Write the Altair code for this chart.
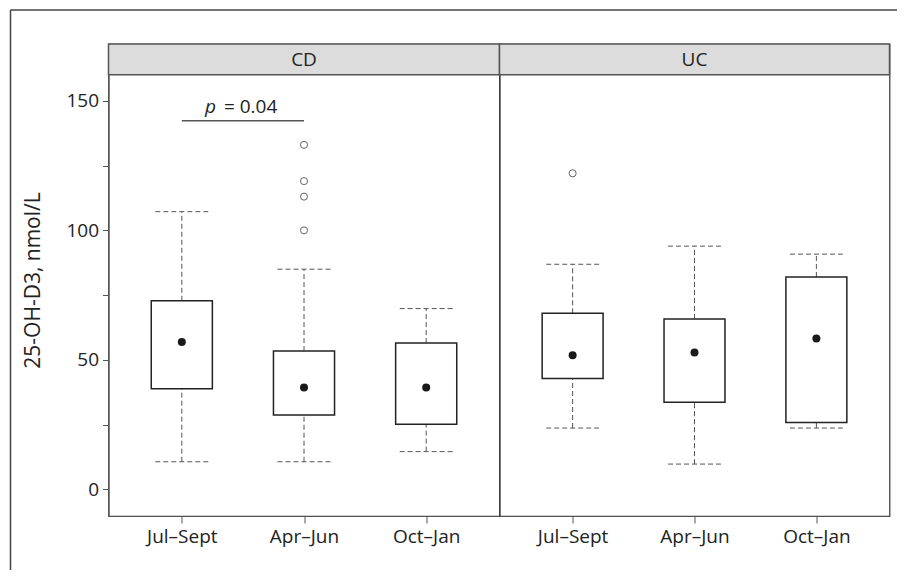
import json
import altair as alt
import pandas as pd

# ---------------- data ----------------
seasons = ["Jul–Sept", "Apr–Jun", "Oct–Jan"]
panels = ["CD", "UC"]

cd_low = [10.7, 10.7, 14.6]
cd_q1 = [38.9, 28.7, 25.2]
cd_median = [56.9, 39.3, 39.3]
cd_q3 = [72.8, 53.4, 56.5]
cd_high = [107.2, 85.0, 69.8]
cd_outlier_season = ["Apr–Jun", "Apr–Jun", "Apr–Jun", "Apr–Jun"]
cd_outlier_value = [133.0, 119.0, 113.0, 100.0]

uc_low = [23.7, 9.8, 23.7]
uc_q1 = [42.8, 33.7, 25.8]
uc_median = [51.8, 52.9, 58.3]
uc_q3 = [68.0, 65.8, 82.0]
uc_high = [86.9, 93.9, 90.8]
uc_outlier_season = ["Jul–Sept"]
uc_outlier_value = [122.0]

p_pair = ["Jul–Sept", "Apr–Jun"]
p_level = 142.3
p_text = "= 0.04"

y_ticks = [0, 25, 50, 75, 100, 125, 150]
y_title = "25-OH-D3, nmol/L"

# ---------------- styling ----------------
FONT = "Open Sans"
FS = 19
FS_TITLE = 21
TXT = "#222222"
GREY = "#555555"
Y_DOMAIN = [-10.24, 171.9]
X_DOMAIN = [-0.6, 2.6]
H = 472
STRIP_H = 30.7
BOX_HALF = 0.25
CAP_HALF = 0.217
DASH = [5, 3]


def stats_frame(low, q1, med, q3, high):
    return pd.DataFrame({
        "season": seasons,
        "idx": list(range(len(seasons))),
        "low": low, "q1": q1, "median": med, "q3": q3, "high": high,
    })


def outlier_frame(s, v):
    return pd.DataFrame({"idx": [seasons.index(x) for x in s], "value": v})


label_expr = json.dumps(seasons, ensure_ascii=False) + "[datum.value]"
x_scale = alt.Scale(domain=X_DOMAIN, nice=False, zero=False)
x_axis = alt.Axis(values=[0, 1, 2], labelExpr=label_expr, title=None, grid=False,
                  tickSize=7, labelPadding=4, domainColor=GREY, tickColor=GREY,
                  labelColor=TXT, labelFont=FONT, labelFontSize=FS)
y_scale = alt.Scale(domain=Y_DOMAIN, nice=False, zero=False)


def y_axis(show):
    if not show:
        return None
    return alt.Axis(values=y_ticks,
                    labelExpr="datum.value % 50 == 0 ? datum.label : ''",
                    title=y_title, titleFont=FONT, titleFontSize=FS_TITLE,
                    titleFontWeight="normal", titleColor=TXT, titlePadding=22,
                    grid=False, tickSize=6, labelPadding=4,
                    domainColor=GREY, tickColor=GREY, labelColor=TXT,
                    labelFont=FONT, labelFontSize=FS)


def X(field):
    return alt.X(field, type="quantitative", scale=x_scale, axis=x_axis)


def Y(field, show):
    return alt.Y(field, type="quantitative", scale=y_scale, axis=y_axis(show))


def panel(name, df, out, width, left):
    one = alt.Chart(pd.DataFrame({"k": [0]}))
    base = alt.Chart(df)
    strip = one.mark_rect(fill="#dcdcdc", stroke=GREY, strokeWidth=1.5).encode(
        x=alt.value(0), x2=alt.value(width), y=alt.value(0), y2=alt.value(STRIP_H))
    strip_txt = one.mark_text(text=name, font=FONT, fontSize=FS, color=TXT,
                              baseline="middle", align="center").encode(
        x=alt.value(width / 2), y=alt.value(STRIP_H / 2 + 0.5))
    wh_up = base.mark_rule(color=GREY, strokeWidth=1, strokeDash=DASH).encode(
        x=X("idx"), y=Y("q3", left), y2="high")
    wh_lo = base.mark_rule(color=GREY, strokeWidth=1, strokeDash=DASH).encode(
        x=X("idx"), y=Y("low", left), y2="q1")
    capped = base.transform_calculate(cl=f"datum.idx - {CAP_HALF}",
                                      cr=f"datum.idx + {CAP_HALF}")
    cap_up = capped.mark_rule(color=GREY, strokeWidth=1, strokeDash=DASH).encode(
        x=X("cl"), x2="cr", y=Y("high", left))
    cap_lo = capped.mark_rule(color=GREY, strokeWidth=1, strokeDash=DASH).encode(
        x=X("cl"), x2="cr", y=Y("low", left))
    box = base.transform_calculate(bl=f"datum.idx - {BOX_HALF}",
                                   br=f"datum.idx + {BOX_HALF}").mark_rect(
        fill="white", stroke="#222222", strokeWidth=1.5).encode(
        x=X("bl"), x2="br", y=Y("q1", left), y2="q3")
    med = base.mark_circle(size=64, color="#1a1a1a", opacity=1).encode(
        x=X("idx"), y=Y("median", left))
    outl = alt.Chart(out).mark_point(shape="circle", filled=False, size=50,
                                     stroke="#222222", strokeWidth=1).encode(
        x=X("idx"), y=Y("value", left))
    layers = [strip, strip_txt, wh_up, wh_lo, cap_up, cap_lo, box, med, outl]
    if left:
        pdf = pd.DataFrame({"a": [seasons.index(p_pair[0])],
                            "b": [seasons.index(p_pair[1])],
                            "y": [p_level]})
        pdf["m"] = (pdf["a"] + pdf["b"]) / 2
        pc = alt.Chart(pdf)
        p_rule = pc.mark_rule(color=GREY, strokeWidth=1.5).encode(
            x=X("a"), x2="b", y=Y("y", left))
        p_it = pc.mark_text(text="p", font=FONT, fontSize=FS, fontStyle="italic",
                            color=TXT, align="right", baseline="alphabetic",
                            dx=-27, dy=-8).encode(x=X("m"), y=Y("y", left))
        p_val = pc.mark_text(text=p_text, font=FONT, fontSize=FS, color=TXT,
                             align="left", baseline="alphabetic",
                             dx=-19, dy=-8).encode(x=X("m"), y=Y("y", left))
        # outer figure frame
        fl = one.mark_rule(color="#444444", strokeWidth=1.5).encode(
            x=alt.value(-98), y=alt.value(-34), y2=alt.value(526))
        ft = one.mark_rule(color="#444444", strokeWidth=1.5).encode(
            x=alt.value(-98), x2=alt.value(789.5), y=alt.value(-34))
        fr = one.mark_rule(color="#444444", strokeWidth=1.5).encode(
            x=alt.value(789.5), y=alt.value(-34), y2=alt.value(526))
        layers += [p_rule, p_it, p_val, fl, ft, fr]
    return alt.layer(*layers).properties(width=width, height=H)


left = panel(panels[0], stats_frame(cd_low, cd_q1, cd_median, cd_q3, cd_high),
             outlier_frame(cd_outlier_season, cd_outlier_value), 391, True)
right = panel(panels[1], stats_frame(uc_low, uc_q1, uc_median, uc_q3, uc_high),
              outlier_frame(uc_outlier_season, uc_outlier_value), 390, False)

chart = alt.hconcat(left, right, spacing=0, bounds="flush").properties(
    padding={"left": 0.5, "top": 0, "right": -3, "bottom": 0},
    background="white",
).configure_view(stroke="#333333", strokeWidth=1.2)

chart.save("out.html", embed_options={"renderer": "svg", "actions": False})
